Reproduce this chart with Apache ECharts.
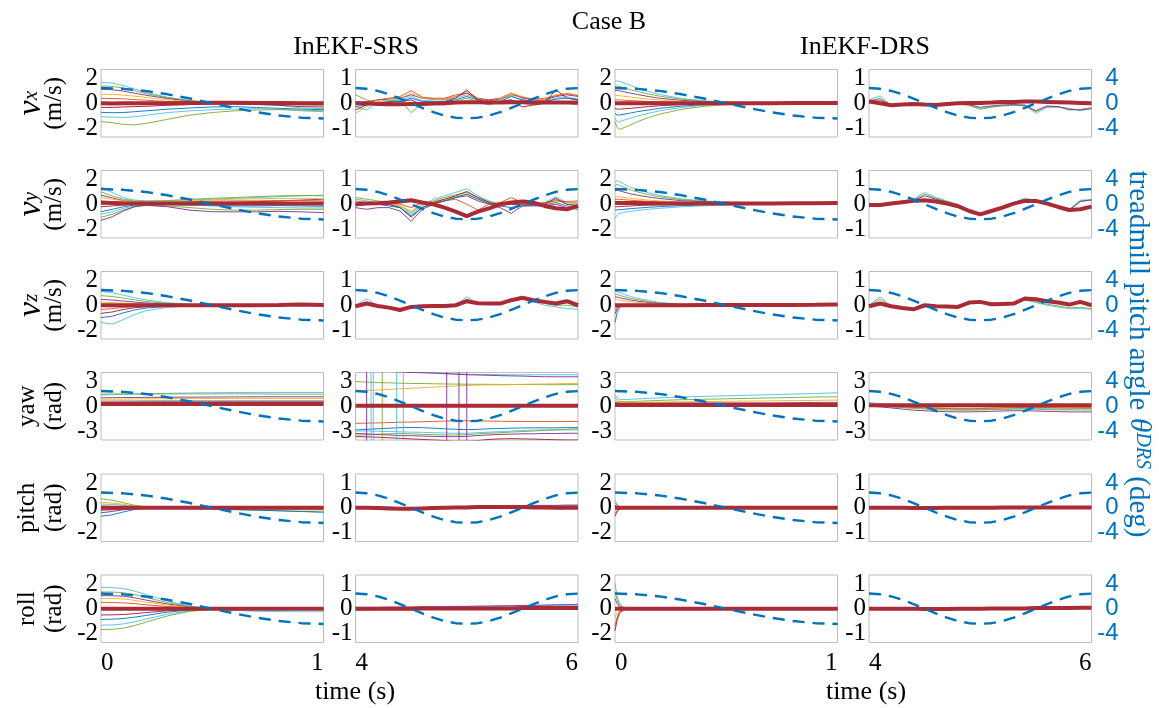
<!DOCTYPE html>
<html>
<head>
<meta charset="utf-8">
<script src="https://cdn.jsdelivr.net/npm/echarts@6/dist/echarts.min.js"></script>
<style>
html,body{margin:0;padding:0;background:#fff;}
#chart{width:1159px;height:708px;}
</style>
</head>
<body>
<div id="chart"></div>
<script>
// ---------- time grids ----------
const tSrs  = [0, 0.05, 0.1, 0.15, 0.2, 0.3, 0.4, 0.5, 0.6, 0.7, 0.8, 0.9, 1.0];
const tDrs  = [0, 0.01, 0.02, 0.04, 0.07, 0.1, 0.15, 0.2, 0.3, 0.4, 0.5, 0.6, 0.7, 0.8, 0.9, 1.0];
const tLate = [4.0, 4.1, 4.2, 4.3, 4.4, 4.5, 4.6, 4.7, 4.8, 4.9, 5.0, 5.1, 5.2, 5.3, 5.4, 5.5, 5.6, 5.7, 5.8, 5.9, 6.0];
const tTreadEarly = [0, 0.1, 0.2, 0.3, 0.4, 0.5, 0.6, 0.7, 0.8, 0.9, 1.0];

// treadmill pitch angle (deg)
const treadEarly = [1.8, 1.71, 1.46, 1.06, 0.56, 0.0, -0.56, -1.06, -1.46, -1.71, -1.8];
const treadLate  = [1.8, 1.71, 1.46, 1.06, 0.56, 0.0, -0.56, -1.06, -1.46, -1.71, -1.8, -1.71, -1.46, -1.06, -0.56, 0.0, 0.56, 1.06, 1.46, 1.71, 1.8];

// ---------- v_x ----------
const vxSrsEarly = [
  [1.24, 1.2, 1.05, 0.85, 0.65, 0.35, 0.15, 0.05, 0, -0.05, -0.12, -0.28, -0.32],
  [1.02, 1.0, 0.9, 0.75, 0.58, 0.32, 0.14, 0.06, 0.02, 0.0, -0.05, -0.1, -0.12],
  [0.83, 0.8, 0.72, 0.6, 0.48, 0.28, 0.12, 0.05, 0.05, 0.03, 0.02, 0.0, -0.02],
  [0.53, 0.52, 0.48, 0.42, 0.35, 0.2, 0.1, 0.05, 0.03, 0.05, 0.08, 0.05, 0.04],
  [0.29, 0.28, 0.26, 0.22, 0.18, 0.1, 0.05, 0.02, 0.01, 0.0, 0.02, 0.03, 0.02],
  [-0.24, -0.25, -0.22, -0.2, -0.18, -0.12, -0.08, -0.05, -0.05, -0.08, -0.12, -0.2, -0.22],
  [-0.54, -0.56, -0.55, -0.5, -0.45, -0.35, -0.28, -0.22, -0.2, -0.25, -0.3, -0.35, -0.38],
  [-0.8, -0.82, -0.84, -0.8, -0.72, -0.55, -0.45, -0.38, -0.35, -0.32, -0.35, -0.45, -0.5],
  [-1.09, -1.15, -1.25, -1.28, -1.2, -0.95, -0.7, -0.55, -0.45, -0.4, -0.38, -0.4, -0.45]
];
const vxSrsEarlyMean = [0, -0.02, 0, 0, 0, 0, 0.02, 0.03, 0.03, 0.02, 0.02, 0, 0];

const vxSrsLate = [
  [-0.1, -0.2, 0.05, 0.08, 0.1, 0.2, 0.08, 0.1, 0.1, 0.15, 0.25, 0.12, 0.05, 0.1, 0.22, 0.1, 0.05, 0.08, 0.15, 0.2, 0.1],
  [0.25, 0.1, 0.0, 0.05, 0.1, -0.28, 0.0, 0.0, -0.05, 0.05, 0.15, 0.05, -0.05, 0.05, 0.1, 0.0, -0.05, 0.0, 0.05, 0.0, -0.05],
  [0.05, 0.0, 0.1, 0.12, 0.15, 0.25, 0.15, 0.12, 0.12, 0.2, 0.3, 0.15, 0.1, 0.15, 0.3, 0.15, 0.1, 0.1, 0.2, 0.25, 0.2],
  [-0.3, -0.1, 0.05, 0.1, 0.15, 0.3, 0.15, 0.12, 0.1, 0.2, 0.35, 0.15, 0.05, 0.15, 0.3, 0.2, 0.1, 0.12, 0.25, 0.3, 0.25],
  [0.0, 0.05, 0.1, 0.15, 0.2, 0.37, 0.18, 0.15, 0.15, 0.25, 0.3, 0.12, 0.08, 0.12, 0.25, 0.18, 0.12, 0.15, 0.22, 0.28, 0.22],
  [-0.2, -0.05, 0.0, 0.02, 0.05, 0.1, -0.05, 0.0, 0.05, 0.15, 0.39, 0.1, 0.0, 0.05, 0.1, -0.11, -0.05, 0.0, 0.4, 0.15, 0.1],
  [-0.1, -0.05, 0.0, 0.05, 0.05, 0.15, 0.05, 0.05, 0.05, 0.1, 0.2, 0.1, 0.0, 0.05, 0.2, 0.1, 0.05, 0.05, 0.12, 0.15, 0.12]
];
const vxSrsLateMean = [0, 0, -0.02, -0.03, -0.03, -0.02, -0.02, -0.01, 0, 0.02, 0.03, 0.03, 0.02, 0.02, 0.03, 0.03, 0.02, 0.02, 0.02, 0.02, 0.02];

const vxDrsEarly = [
  [1.3, 1.32, 1.3, 1.2, 1.05, 0.9, 0.7, 0.52, 0.28, 0.14, 0.07, 0.04, 0.03, 0.02, 0.02, 0.02],
  [1.0, 1.02, 1.0, 0.92, 0.8, 0.7, 0.55, 0.42, 0.24, 0.12, 0.06, 0.03, 0.02, 0.02, 0.02, 0.02],
  [0.75, 0.76, 0.74, 0.68, 0.6, 0.52, 0.4, 0.3, 0.17, 0.09, 0.05, 0.03, 0.02, 0.02, 0.02, 0.01],
  [0.45, 0.46, 0.45, 0.42, 0.37, 0.32, 0.25, 0.19, 0.1, 0.05, 0.03, 0.02, 0.01, 0.01, 0.01, 0.01],
  [0.2, 0.2, 0.2, 0.18, 0.16, 0.14, 0.11, 0.08, 0.05, 0.03, 0.02, 0.01, 0.01, 0.01, 0.0, 0.0],
  [-0.3, -0.35, -0.35, -0.33, -0.3, -0.26, -0.2, -0.15, -0.08, -0.04, -0.02, -0.01, 0, 0, 0, 0],
  [-0.6, -0.7, -0.7, -0.65, -0.58, -0.5, -0.4, -0.3, -0.17, -0.08, -0.04, -0.02, -0.01, 0, 0, 0],
  [-0.9, -1.1, -1.1, -1.0, -0.88, -0.76, -0.6, -0.45, -0.25, -0.12, -0.06, -0.03, -0.02, -0.01, 0, 0],
  [-1.1, -1.45, -1.55, -1.45, -1.28, -1.1, -0.85, -0.65, -0.36, -0.18, -0.09, -0.05, -0.03, -0.02, -0.01, 0]
];
const vxDrsEarlyMean = [0, 0, 0, 0, 0, 0, 0, 0, 0, 0, 0, 0, 0, 0.01, 0.01, 0.01];

const vxDrsLate = [
  [0.1, 0.22, -0.08, -0.05, -0.02, -0.04, -0.06, -0.02, 0.0, -0.05, -0.15, -0.1, -0.08, -0.05, -0.05, -0.3, -0.12, -0.12, -0.15, -0.22, -0.15],
  [0.06, 0.15, -0.07, -0.04, -0.02, -0.05, -0.05, -0.02, -0.01, -0.07, -0.18, -0.12, -0.07, -0.06, -0.08, -0.25, -0.1, -0.1, -0.2, -0.18, -0.13],
  [0.08, 0.1, -0.06, -0.04, -0.01, -0.03, -0.05, 0.0, 0.0, -0.04, -0.12, -0.08, -0.05, -0.04, -0.06, -0.22, -0.08, -0.1, -0.18, -0.2, -0.16]
];
const vxDrsLateMean = [0.05, 0.0, -0.06, -0.04, -0.02, -0.04, -0.05, -0.02, 0.0, 0.01, 0.01, 0.02, 0.04, 0.04, 0.05, 0.05, 0.04, 0.03, 0.02, 0.01, 0.0];

// ---------- v_y ----------
const vySrsEarly = [
  [1.02, 0.7, 0.4, 0.25, 0.2, 0.2, 0.25, 0.3, 0.35, 0.4, 0.45, 0.5, 0.54],
  [0.73, 0.5, 0.3, 0.2, 0.18, 0.22, 0.3, 0.35, 0.4, 0.45, 0.5, 0.52, 0.5],
  [0.54, 0.38, 0.22, 0.15, 0.12, 0.1, 0.08, 0.1, 0.12, 0.15, 0.2, 0.25, 0.3],
  [0.4, 0.3, 0.2, 0.15, 0.12, 0.15, 0.2, 0.25, 0.3, 0.32, 0.35, 0.35, 0.35],
  [0.2, 0.15, 0.1, 0.1, 0.1, 0.12, 0.15, 0.18, 0.2, 0.2, 0.22, 0.22, 0.2],
  [-0.15, -0.1, -0.05, 0.0, 0.02, 0.05, 0.08, 0.1, 0.1, 0.12, 0.12, 0.1, 0.1],
  [-0.44, -0.3, -0.15, -0.05, 0.0, 0.0, -0.05, -0.08, -0.1, -0.1, -0.08, -0.1, -0.12],
  [-0.6, -0.45, -0.25, -0.1, -0.05, -0.02, -0.05, -0.1, -0.15, -0.18, -0.2, -0.22, -0.22],
  [-0.77, -0.6, -0.35, -0.15, -0.08, -0.1, -0.2, -0.3, -0.35, -0.35, -0.32, -0.3, -0.3],
  [-0.95, -0.75, -0.4, -0.15, -0.05, -0.15, -0.35, -0.44, -0.45, -0.45, -0.42, -0.45, -0.5]
];
const vySrsEarlyMean = [0.09, 0.08, 0.06, 0.05, 0.05, 0.05, 0.04, 0.04, 0.05, 0.05, 0.05, 0.05, 0.05];

const vySrsLate = [
  [0.15, 0.1, 0.05, 0.0, -0.1, -0.3, -0.05, 0.15, 0.25, 0.35, 0.46, 0.25, 0.1, 0.0, 0.05, 0.0, 0.0, 0.05, 0.22, 0.05, 0.05],
  [0.2, 0.15, 0.1, 0.05, -0.05, -0.25, 0.0, 0.1, 0.2, 0.28, 0.35, 0.2, 0.08, 0.0, 0.05, 0.0, 0.0, 0.02, 0.15, 0.0, 0.0],
  [-0.1, -0.15, -0.1, -0.1, -0.2, -0.51, -0.15, 0.0, 0.1, 0.2, 0.25, 0.1, 0.0, -0.1, -0.27, -0.05, -0.05, -0.05, 0.0, -0.1, -0.15],
  [0.05, 0.05, 0.0, 0.0, -0.05, -0.2, 0.0, 0.08, 0.15, 0.22, 0.3, 0.15, 0.05, 0.02, 0.05, 0.02, 0.0, 0.0, 0.1, 0.05, 0.0],
  [0.1, 0.05, 0.05, 0.05, 0.0, -0.1, 0.05, 0.05, 0.1, 0.15, 0.0, -0.17, 0.0, 0.05, 0.2, 0.05, 0.0, 0.05, 0.1, 0.08, 0.1],
  [0.0, 0.0, 0.0, 0.0, -0.1, -0.38, -0.1, 0.05, 0.15, 0.25, 0.38, 0.2, 0.05, -0.02, 0.0, -0.02, -0.02, 0.0, 0.18, 0.0, -0.05],
  [-0.05, 0.0, 0.0, -0.05, -0.1, -0.35, -0.1, 0.02, 0.1, 0.2, 0.3, 0.15, 0.02, -0.05, -0.1, -0.05, -0.02, -0.02, 0.05, -0.05, -0.1]
];
const vySrsLateMean = [0, 0.02, 0.03, 0.05, 0.08, 0.12, 0.05, 0.0, -0.1, -0.22, -0.35, -0.22, -0.12, 0.0, 0.05, 0.08, 0.05, -0.05, -0.12, -0.15, -0.05];

const vyDrsEarly = [
  [1.3, 1.41, 1.35, 1.2, 1.0, 0.87, 0.68, 0.52, 0.32, 0.2, 0.13, 0.1, 0.08, 0.07, 0.07, 0.07],
  [1.1, 1.18, 1.12, 1.0, 0.85, 0.73, 0.57, 0.44, 0.27, 0.17, 0.11, 0.09, 0.08, 0.07, 0.07, 0.07],
  [0.8, 0.83, 0.8, 0.72, 0.62, 0.54, 0.43, 0.34, 0.21, 0.14, 0.1, 0.08, 0.07, 0.07, 0.07, 0.07],
  [0.44, 0.45, 0.44, 0.4, 0.35, 0.31, 0.25, 0.2, 0.14, 0.1, 0.08, 0.07, 0.07, 0.07, 0.07, 0.07],
  [0.3, 0.3, 0.29, 0.27, 0.24, 0.21, 0.17, 0.14, 0.1, 0.08, 0.07, 0.07, 0.07, 0.07, 0.07, 0.07],
  [-0.15, -0.15, -0.14, -0.12, -0.1, -0.08, -0.05, -0.03, 0.0, 0.02, 0.03, 0.04, 0.05, 0.05, 0.06, 0.06],
  [-0.34, -0.33, -0.32, -0.3, -0.26, -0.23, -0.18, -0.14, -0.08, -0.04, -0.01, 0.01, 0.03, 0.04, 0.05, 0.05],
  [-0.82, -0.65, -0.55, -0.48, -0.42, -0.37, -0.3, -0.24, -0.15, -0.09, -0.05, -0.02, 0.0, 0.02, 0.03, 0.04]
];
const vyDrsEarlyMean = [0.09, 0.08, 0.08, 0.08, 0.07, 0.07, 0.06, 0.05, 0.04, 0.04, 0.04, 0.05, 0.05, 0.06, 0.06, 0.07];

const vyDrsLate = [
  [-0.08, 0.0, 0.05, 0.1, 0.15, 0.35, 0.2, 0.1, 0.0, -0.15, -0.28, -0.18, -0.05, 0.05, 0.18, 0.12, 0.05, -0.05, -0.15, 0.12, 0.14],
  [-0.05, -0.02, 0.04, 0.08, 0.12, 0.3, 0.18, 0.08, -0.02, -0.17, -0.3, -0.2, -0.08, 0.04, 0.15, 0.1, 0.03, -0.06, -0.16, 0.1, 0.12],
  [-0.04, -0.02, 0.03, 0.07, 0.11, 0.25, 0.15, 0.06, -0.03, -0.18, -0.31, -0.21, -0.09, 0.03, 0.12, 0.11, 0.03, -0.07, -0.17, 0.08, 0.13]
];
const vyDrsLateMean = [-0.02, -0.02, 0.02, 0.06, 0.1, 0.12, 0.08, 0.02, -0.06, -0.2, -0.3, -0.2, -0.1, 0.02, 0.1, 0.1, 0.02, -0.08, -0.17, -0.15, -0.07];

// ---------- v_z ----------
const vzSrsEarly = [
  [0.82, 0.75, 0.6, 0.45, 0.32, 0.15, 0.05, 0.0, 0.0, 0.0, 0.0, 0.05, 0.02],
  [0.57, 0.52, 0.42, 0.32, 0.23, 0.1, 0.03, 0.0, 0.0, 0.0, 0.0, 0.04, 0.02],
  [0.34, 0.31, 0.25, 0.19, 0.14, 0.06, 0.02, 0.0, 0.0, 0.0, 0.0, 0.03, 0.01],
  [0.18, 0.16, 0.13, 0.1, 0.07, 0.03, 0.01, 0.0, 0.0, 0.0, 0.0, 0.02, 0.0],
  [-0.25, -0.2, -0.13, -0.08, -0.05, -0.02, 0, 0, 0, 0, 0, 0.02, 0],
  [-0.48, -0.4, -0.25, -0.15, -0.09, -0.03, -0.01, 0, 0, 0, 0, 0.03, 0],
  [-0.73, -0.65, -0.45, -0.28, -0.17, -0.06, -0.02, 0, 0, 0, 0, 0.04, 0],
  [-1.02, -1.12, -0.85, -0.55, -0.33, -0.12, -0.04, -0.01, 0, 0, 0, 0.05, 0]
];
const vzSrsEarlyMean = [0, 0, 0, 0, 0, 0, 0, 0, 0, 0, 0.01, 0.05, 0.02];

const vzSrsLate = [
  [0.0, 0.19, -0.02, -0.08, -0.1, -0.03, -0.03, -0.03, -0.02, 0.0, 0.25, 0.05, 0.03, 0.03, 0.12, 0.18, 0.1, 0.0, -0.05, -0.1, -0.12],
  [-0.02, 0.1, -0.03, -0.07, -0.12, -0.04, -0.03, -0.02, -0.02, 0.0, 0.18, 0.06, 0.04, 0.04, 0.14, 0.2, 0.12, 0.05, 0.0, 0.0, -0.05],
  [-0.05, 0.05, -0.02, -0.06, -0.13, -0.05, -0.02, -0.02, -0.01, 0.02, 0.15, 0.05, 0.05, 0.06, 0.16, 0.24, 0.16, 0.1, 0.05, 0.08, -0.02]
];
const vzSrsLateMean = [-0.03, 0.05, -0.02, -0.07, -0.14, -0.05, -0.03, -0.02, -0.02, 0.0, 0.12, 0.06, 0.05, 0.05, 0.15, 0.22, 0.15, 0.1, 0.05, 0.12, 0.0];

const vzDrsEarly = [
  [0.82, 0.8, 0.75, 0.65, 0.52, 0.42, 0.28, 0.17, 0.06, 0.02, 0.01, 0.01, 0.01, 0.02, 0.03, 0.04],
  [0.65, 0.63, 0.59, 0.51, 0.41, 0.33, 0.22, 0.13, 0.05, 0.02, 0.01, 0.01, 0.01, 0.02, 0.03, 0.04],
  [0.5, 0.48, 0.45, 0.39, 0.31, 0.25, 0.16, 0.1, 0.04, 0.02, 0.01, 0.01, 0.01, 0.02, 0.03, 0.04],
  [0.35, 0.33, 0.31, 0.26, 0.21, 0.17, 0.11, 0.07, 0.03, 0.01, 0.01, 0.01, 0.01, 0.02, 0.03, 0.04],
  [-0.3, -0.1, -0.03, 0, 0, 0, 0, 0, 0, 0, 0.01, 0.01, 0.01, 0.02, 0.03, 0.04],
  [-0.5, -0.2, -0.06, -0.01, 0, 0, 0, 0, 0, 0, 0.01, 0.01, 0.01, 0.02, 0.03, 0.04],
  [-1.02, -0.4, -0.12, -0.02, 0, 0, 0, 0, 0, 0, 0.01, 0.01, 0.01, 0.02, 0.03, 0.04]
];
const vzDrsEarlyMean = [0, 0, 0, 0, 0, 0, 0, 0, 0, 0.01, 0.01, 0.01, 0.01, 0.02, 0.03, 0.05];

const vzDrsLate = [
  [0.0, 0.25, -0.03, -0.08, -0.12, 0.0, -0.03, -0.04, -0.05, 0.08, 0.12, 0.03, 0.04, 0.05, 0.15, 0.08, 0.0, -0.05, -0.1, -0.1, -0.12],
  [-0.02, 0.18, -0.03, -0.08, -0.12, 0.0, -0.03, -0.04, -0.05, 0.08, 0.1, 0.03, 0.04, 0.05, 0.17, 0.1, 0.03, -0.02, -0.08, -0.06, -0.1]
];
const vzDrsLateMean = [-0.03, 0.05, -0.03, -0.08, -0.12, 0.0, -0.03, -0.04, -0.05, 0.08, 0.1, 0.03, 0.04, 0.05, 0.2, 0.18, 0.12, 0.08, 0.02, 0.1, 0.0];

// ---------- yaw ----------
const yawSrsEarly = [
  [1.0, 1.02, 1.05, 1.08, 1.1, 1.15, 1.18, 1.2, 1.22, 1.23, 1.23, 1.23, 1.23],
  [1.08, 1.1, 1.1, 1.1, 1.1, 1.1, 1.1, 1.1, 1.1, 1.1, 1.08, 1.08, 1.08],
  [0.75, 0.76, 0.77, 0.78, 0.79, 0.8, 0.81, 0.82, 0.83, 0.84, 0.84, 0.84, 0.84],
  [0.62, 0.63, 0.64, 0.65, 0.66, 0.67, 0.68, 0.69, 0.7, 0.7, 0.7, 0.7, 0.7],
  [0.46, 0.46, 0.47, 0.47, 0.48, 0.48, 0.48, 0.48, 0.48, 0.48, 0.48, 0.48, 0.48],
  [0.3, 0.3, 0.3, 0.3, 0.3, 0.3, 0.3, 0.3, 0.3, 0.3, 0.3, 0.3, 0.3],
  [0.35, 0.36, 0.37, 0.38, 0.39, 0.4, 0.4, 0.4, 0.4, 0.4, 0.4, 0.4, 0.4]
];
const yawSrsEarlyMean = [0.2, 0.2, 0.2, 0.2, 0.2, 0.2, 0.2, 0.2, 0.2, 0.2, 0.2, 0.2, 0.2];

const yawSrsLate = [
  [3.3, 3.3, 3.2, 3.15, 3.1, 3.05, 3.0, 2.95, 2.9, 2.88, 2.85, 2.83, 2.82, 2.82, 2.8, 2.8, 2.8, 2.8, 2.8, 2.8, 2.8],
  [2.2, 2.15, 2.1, 2.08, 2.05, 2.03, 2.02, 2.0, 1.98, 1.97, 1.96, 1.95, 1.95, 1.94, 1.94, 1.93, 1.93, 1.92, 1.92, 1.92, 1.92],
  [3.2, 3.2, 3.15, 3.1, 3.05, 3.0, 2.98, 2.95, 2.9, 2.85, 2.8, 2.78, 2.75, 2.72, 2.7, 2.68, 2.65, 2.62, 2.62, 2.62, 2.62],
  [1.35, 1.4, 1.45, 1.5, 1.55, 1.6, 1.65, 1.7, 1.75, 1.8, 1.85, 1.88, 1.9, 1.9, 1.92, 1.95, 1.97, 1.98, 2.0, 2.02, 2.02],
  [-1.52, -1.5, -1.48, -1.45, -1.42, -1.4, -1.38, -1.35, -1.32, -1.3, -1.29, -1.3, -1.32, -1.33, -1.35, -1.35, -1.35, -1.35, -1.35, -1.35, -1.35],
  [-2.7, -2.72, -2.75, -2.8, -2.85, -2.9, -2.95, -3.0, -3.05, -3.1, -3.1, -3.05, -2.95, -2.9, -2.88, -2.9, -2.92, -2.95, -2.98, -3.0, -3.0],
  [-2.11, -2.05, -2.0, -1.95, -1.9, -1.88, -1.9, -1.95, -2.0, -2.05, -2.08, -2.05, -2.0, -1.98, -1.95, -1.93, -1.92, -1.92, -1.92, -1.9, -1.9],
  [-2.2, -2.2, -2.22, -2.25, -2.28, -2.3, -2.32, -2.35, -2.38, -2.4, -2.4, -2.35, -2.3, -2.25, -2.2, -2.15, -2.12, -2.1, -2.1, -2.1, -2.1],
  [-2.56, -2.55, -2.5, -2.45, -2.42, -2.45, -2.5, -2.52, -2.55, -2.55, -2.52, -2.45, -2.4, -2.35, -2.3, -2.25, -2.2, -2.15, -2.1, -2.05, -2.0],
  [-2.41, -2.45, -2.5, -2.55, -2.6, -2.62, -2.65, -2.68, -2.7, -2.7, -2.68, -2.6, -2.55, -2.5, -2.48, -2.45, -2.45, -2.42, -2.42, -2.4, -2.4]
];
// heading estimates that wrap across ±π: [time, yaw] pairs
const yawSrsLateWrap = [
  [[4.0, -3.3], [4.1, -3.3], [4.1, 3.3], [6.0, 3.3]],
  [[4.0, 3.3], [4.14, 3.3], [4.14, -3.3], [4.37, -3.3], [4.37, 3.3], [4.43, 3.3], [4.43, -3.3], [6.0, -3.3]],
  [[4.0, -3.3], [4.24, -3.3], [4.24, 3.3], [6.0, 3.3]],
  [[4.0, 3.3], [4.16, 3.3], [4.16, -3.3], [6.0, -3.3]],
  [[4.0, 3.3], [4.82, 3.3], [4.82, -3.3], [6.0, -3.3]],
  [[4.0, -3.3], [4.93, -3.3], [4.93, 3.3], [5.0, 3.3], [5.0, -3.3], [6.0, -3.3]]
];
const yawSrsLateWrapColors = ['#7E2F8E', '#4DBEEE', '#77AC30', '#4DBEEE', '#7E2F8E', '#7E2F8E'];
const yawSrsLateMean = [0.05, 0.05, 0.05, 0.05, 0.05, 0.05, 0.05, 0.05, 0.05, 0.05, 0.05, 0.05, 0.05, 0.05, 0.05, 0.05, 0.05, 0.05, 0.05, 0.05, 0.05];

const yawDrsEarly = [
  [1.0, 0.8, 0.62, 0.6, 0.62, 0.65, 0.7, 0.75, 0.82, 0.88, 0.93, 0.98, 1.03, 1.08, 1.13, 1.2],
  [0.8, 0.55, 0.42, 0.4, 0.42, 0.44, 0.48, 0.52, 0.58, 0.62, 0.66, 0.7, 0.74, 0.78, 0.82, 0.84],
  [0.35, 0.32, 0.3, 0.3, 0.3, 0.3, 0.3, 0.3, 0.3, 0.3, 0.3, 0.3, 0.3, 0.32, 0.34, 0.35],
  [0.5, 0.4, 0.35, 0.34, 0.34, 0.35, 0.36, 0.37, 0.4, 0.42, 0.44, 0.46, 0.48, 0.5, 0.52, 0.55],
  [0.3, 0.28, 0.27, 0.27, 0.27, 0.26, 0.26, 0.26, 0.25, 0.25, 0.25, 0.25, 0.25, 0.25, 0.25, 0.25]
];
const yawDrsEarlyMean = [0.12, 0.12, 0.12, 0.12, 0.12, 0.12, 0.12, 0.12, 0.12, 0.12, 0.12, 0.12, 0.12, 0.12, 0.12, 0.12];

const yawDrsLate = [
  [0.34, 0.2, 0.1, 0.0, -0.1, -0.15, -0.2, -0.25, -0.3, -0.3, -0.3, -0.28, -0.25, -0.22, -0.2, -0.2, -0.22, -0.25, -0.25, -0.22, -0.2],
  [0.1, 0.05, -0.05, -0.12, -0.2, -0.25, -0.3, -0.33, -0.35, -0.35, -0.33, -0.3, -0.28, -0.26, -0.25, -0.27, -0.3, -0.32, -0.33, -0.33, -0.32],
  [0.0, -0.05, -0.15, -0.25, -0.35, -0.4, -0.45, -0.48, -0.5, -0.5, -0.48, -0.45, -0.42, -0.4, -0.4, -0.42, -0.45, -0.48, -0.5, -0.5, -0.5],
  [0.2, 0.12, 0.05, 0.0, -0.05, -0.1, -0.12, -0.15, -0.18, -0.18, -0.16, -0.14, -0.12, -0.1, -0.08, -0.08, -0.1, -0.12, -0.13, -0.12, -0.12],
  [0.15, 0.1, 0.0, -0.05, -0.1, -0.15, -0.18, -0.2, -0.22, -0.22, -0.2, -0.18, -0.15, -0.12, -0.1, -0.1, -0.12, -0.15, -0.16, -0.15, -0.15]
];
const yawDrsLateMean = [0.1, 0.1, 0.1, 0.1, 0.1, 0.1, 0.1, 0.1, 0.1, 0.1, 0.1, 0.1, 0.1, 0.1, 0.1, 0.1, 0.1, 0.1, 0.1, 0.1, 0.1];

// ---------- pitch ----------
const pitchSrsEarly = [
  [0.22, 0.2, 0.14, 0.08, 0.03, 0.0, -0.01, -0.02, -0.03, -0.04, -0.05, -0.06, -0.07],
  [0.52, 0.45, 0.3, 0.15, 0.05, -0.02, -0.05, -0.08, -0.12, -0.15, -0.18, -0.22, -0.26],
  [-0.3, -0.22, -0.12, -0.05, 0.0, 0.02, 0.02, 0.02, 0.02, 0.02, 0.02, 0.02, 0.02],
  [0.32, 0.28, 0.2, 0.1, 0.04, 0.0, -0.02, -0.04, -0.06, -0.08, -0.1, -0.12, -0.14],
  [0.1, 0.08, 0.05, 0.02, 0.0, 0.0, 0.0, 0.0, 0.0, 0.0, 0.0, 0.0, 0.0],
  [-0.15, -0.12, -0.07, -0.03, 0.0, 0.0, 0.0, -0.01, -0.02, -0.03, -0.04, -0.05, -0.06],
  [-0.5, -0.42, -0.25, -0.1, -0.02, 0.0, -0.03, -0.06, -0.1, -0.14, -0.18, -0.22, -0.26]
];
const pitchSrsEarlyMean = [0, 0, 0, 0, 0, 0, 0, 0, 0, 0, 0, 0, 0];

const pitchSrsLate = [
  [0.02, 0.02, 0.02, 0.02, 0.0, 0.0, -0.01, 0.0, 0.0, 0.02, 0.03, 0.03, 0.03, 0.04, 0.04, 0.05, 0.05, 0.05, 0.05, 0.05, 0.05],
  [-0.02, -0.02, -0.03, -0.03, -0.04, -0.04, -0.03, -0.02, -0.01, 0.0, 0.01, 0.01, 0.02, 0.02, 0.02, 0.03, 0.03, 0.04, 0.04, 0.05, 0.06],
  [0.04, 0.03, 0.02, 0.01, 0.0, -0.01, 0.0, 0.01, 0.02, 0.03, 0.04, 0.05, 0.05, 0.06, 0.06, 0.06, 0.07, 0.07, 0.07, 0.08, 0.08]
];
const pitchSrsLateMean = [0, 0, -0.01, -0.02, -0.03, -0.03, -0.02, -0.01, 0, 0.01, 0.01, 0.02, 0.02, 0.02, 0.02, 0.02, 0.01, 0.01, 0.0, 0.0, 0.0];

const pitchDrsEarly = [
  [0.45, 0.2, 0.08, 0.02, 0.01, 0, 0, 0, 0, 0, 0, 0, 0, 0, 0, 0],
  [0.3, 0.14, 0.05, 0.01, 0, 0, 0, 0, 0, 0, 0, 0, 0, 0, 0, 0],
  [0.15, 0.07, 0.03, 0.01, 0, 0, 0, 0, 0, 0, 0, 0, 0, 0, 0, 0],
  [-0.2, -0.09, -0.04, -0.01, 0, 0, 0, 0, 0, 0, 0, 0, 0, 0, 0, 0],
  [-0.35, -0.16, -0.06, -0.02, 0, 0, 0, 0, 0, 0, 0, 0, 0, 0, 0, 0],
  [-0.5, -0.23, -0.09, -0.02, -0.01, 0, 0, 0, 0, 0, 0, 0, 0, 0, 0, 0]
];
const pitchDrsEarlyMean = [0, 0, 0, 0, 0, 0, 0, 0, 0, 0, 0, 0, 0, 0, 0, 0];

const pitchDrsLate = [
  [0.01, 0.01, 0.0, 0.0, -0.01, -0.01, -0.01, 0.0, 0.0, 0.01, 0.01, 0.01, 0.01, 0.02, 0.02, 0.02, 0.02, 0.02, 0.03, 0.02, 0.02],
  [-0.01, -0.01, -0.01, -0.01, -0.02, -0.02, -0.01, -0.01, 0.0, 0.0, 0.0, 0.0, 0.01, 0.01, 0.01, 0.01, 0.01, 0.01, 0.01, 0.01, 0.01]
];
const pitchDrsLateMean = [0, 0, 0, 0, -0.01, -0.01, -0.01, 0, 0, 0, 0, 0, 0.01, 0.01, 0.01, 0.01, 0.01, 0.01, 0.01, 0.01, 0.01];

// ---------- roll ----------
const rollSrsEarly = [
  [1.27, 1.25, 1.2, 1.05, 0.85, 0.45, 0.15, 0.0, -0.1, -0.15, -0.17, -0.18, -0.18],
  [1.0, 0.99, 0.95, 0.84, 0.68, 0.36, 0.12, 0.02, 0.0, 0.0, 0.0, 0.0, 0.0],
  [0.78, 0.77, 0.74, 0.65, 0.52, 0.28, 0.1, 0.02, 0.0, 0.0, 0.0, 0.0, 0.0],
  [0.62, 0.61, 0.58, 0.5, 0.4, 0.22, 0.08, 0.02, 0.0, 0.0, 0.0, 0.0, 0.0],
  [0.38, 0.37, 0.35, 0.3, 0.24, 0.13, 0.05, 0.01, 0.0, 0.0, 0.0, 0.0, 0.0],
  [-0.37, -0.36, -0.34, -0.29, -0.23, -0.12, -0.04, -0.01, 0.0, 0.0, 0.0, 0.0, 0.0],
  [-0.63, -0.62, -0.58, -0.5, -0.4, -0.2, -0.07, -0.02, 0.0, 0.0, -0.02, -0.02, -0.02],
  [-0.97, -0.96, -0.9, -0.78, -0.62, -0.32, -0.12, -0.03, 0.0, 0.0, 0.0, 0.0, 0.0],
  [-1.23, -1.22, -1.15, -1.0, -0.8, -0.42, -0.15, -0.04, 0.0, 0.0, 0.0, 0.0, 0.0]
];
const rollSrsEarlyMean = [0, 0, 0, 0, 0, 0, 0, 0, 0, 0, 0, 0, 0];

const rollSrsLate = [
  [0.02, 0.02, 0.03, 0.03, 0.04, 0.04, 0.05, 0.05, 0.06, 0.06, 0.06, 0.06, 0.07, 0.07, 0.08, 0.08, 0.08, 0.09, 0.1, 0.1, 0.1],
  [-0.04, -0.04, -0.03, -0.03, -0.03, -0.03, -0.02, -0.02, -0.02, -0.02, -0.02, -0.02, -0.02, -0.01, -0.01, -0.01, 0, 0, 0, 0, 0],
  [0.04, 0.04, 0.04, 0.05, 0.05, 0.05, 0.06, 0.06, 0.06, 0.07, 0.07, 0.08, 0.08, 0.09, 0.09, 0.1, 0.1, 0.11, 0.12, 0.12, 0.13],
  [-0.02, -0.02, -0.01, -0.01, 0.0, 0.0, 0.01, 0.01, 0.02, 0.02, 0.03, 0.03, 0.03, 0.04, 0.04, 0.05, 0.05, 0.05, 0.06, 0.06, 0.06]
];
const rollSrsLateMean = [0, 0, 0, 0, 0, 0, 0.01, 0.01, 0.01, 0.01, 0.01, 0.01, 0.01, 0.01, 0.01, 0.02, 0.02, 0.02, 0.02, 0.02, 0.02];

const rollDrsEarly = [
  [1.5, 0.7, 0.3, 0.08, 0.02, 0, 0, 0, 0, 0, 0, 0, 0, 0, 0, 0],
  [1.0, 0.5, 0.2, 0.05, 0.01, 0, 0, 0, 0, 0, 0, 0, 0, 0, 0, 0],
  [0.6, 0.3, 0.12, 0.03, 0, 0, 0, 0, 0, 0, 0, 0, 0, 0, 0, 0],
  [-0.5, -0.25, -0.1, -0.02, 0, 0, 0, 0, 0, 0, 0, 0, 0, 0, 0, 0],
  [-1.0, -0.5, -0.2, -0.05, 0, 0, 0, 0, 0, 0, 0, 0, 0, 0, 0, 0],
  [-1.3, -0.65, -0.26, -0.06, 0, 0, 0, 0, 0, 0, 0, 0, 0, 0, 0, 0]
];
const rollDrsEarlyMean = [0, 0, 0, 0, 0, 0, 0, 0, 0, 0, 0, 0, 0, 0, 0, 0];

const rollDrsLate = [
  [0.0, 0.0, 0.0, 0.01, 0.01, 0.0, -0.01, -0.01, 0.0, 0.0, 0.01, 0.01, 0.01, 0.02, 0.02, 0.02, 0.02, 0.03, 0.03, 0.03, 0.04]
];
const rollDrsLateMean = [0, 0, 0, 0, 0, -0.01, -0.01, -0.01, 0, 0, 0, 0.01, 0.01, 0.01, 0.01, 0.02, 0.02, 0.02, 0.02, 0.03, 0.03];

// ---------- labels ----------
const figTitle = 'Case B';
const columnTitles = ['InEKF-SRS', 'InEKF-DRS'];
const xTitle = 'time (s)';
const rowNames = [['v', 'x'], ['v', 'y'], ['v', 'z'], ['yaw'], ['pitch'], ['roll']];
const rowUnits = ['(m/s)', '(m/s)', '(m/s)', '(rad)', '(rad)', '(rad)'];
const yLimits = [[2, 1, 2, 1], [2, 1, 2, 1], [2, 1, 2, 1], [3, 3, 3, 3], [2, 1, 2, 1], [2, 1, 2, 1]];

const panels = [
  [[tSrs, vxSrsEarly, vxSrsEarlyMean], [tLate, vxSrsLate, vxSrsLateMean], [tDrs, vxDrsEarly, vxDrsEarlyMean], [tLate, vxDrsLate, vxDrsLateMean]],
  [[tSrs, vySrsEarly, vySrsEarlyMean], [tLate, vySrsLate, vySrsLateMean], [tDrs, vyDrsEarly, vyDrsEarlyMean], [tLate, vyDrsLate, vyDrsLateMean]],
  [[tSrs, vzSrsEarly, vzSrsEarlyMean], [tLate, vzSrsLate, vzSrsLateMean], [tDrs, vzDrsEarly, vzDrsEarlyMean], [tLate, vzDrsLate, vzDrsLateMean]],
  [[tSrs, yawSrsEarly, yawSrsEarlyMean], [tLate, yawSrsLate, yawSrsLateMean, yawSrsLateWrap], [tDrs, yawDrsEarly, yawDrsEarlyMean], [tLate, yawDrsLate, yawDrsLateMean]],
  [[tSrs, pitchSrsEarly, pitchSrsEarlyMean], [tLate, pitchSrsLate, pitchSrsLateMean], [tDrs, pitchDrsEarly, pitchDrsEarlyMean], [tLate, pitchDrsLate, pitchDrsLateMean]],
  [[tSrs, rollSrsEarly, rollSrsEarlyMean], [tLate, rollSrsLate, rollSrsLateMean], [tDrs, rollDrsEarly, rollDrsEarlyMean], [tLate, rollDrsLate, rollDrsLateMean]]
];

// ---------- styling / layout ----------
const SERIF = "'Liberation Serif', 'Times New Roman', serif";
const SANS = "'Liberation Sans', Arial, sans-serif";
const lineColors = ['#4DBEEE', '#77AC30', '#7E2F8E', '#EDB120', '#D95319', '#A2142F', '#0072BD'];
const meanColor = '#AA2A36';
const treadColor = '#0072BD';
const colLeft = [101, 355.5, 615, 869];
const rowTop = [69.5, 170.5, 271.5, 372.5, 474, 575];
const plotW = 222.5, plotH = 67.5;

const pairs = (t, v) => v.map((y, i) => [t[i], y]);
const hidden = { show: false };

const grids = [], xAxes = [], yAxes = [], series = [];
const baseLine = { type: 'line', symbol: 'none', silent: true, animation: false, clip: true, emphasis: { disabled: true } };

for (let r = 0; r < 6; r++) {
  for (let c = 0; c < 4; c++) {
    const gi = r * 4 + c;
    const late = c % 2 === 1;
    const R = yLimits[r][c];
    grids.push({ left: colLeft[c], top: rowTop[r], width: plotW, height: plotH, show: true, borderColor: '#bdbdbd', borderWidth: 1, backgroundColor: '#fff' });
    xAxes.push({
      type: 'value', gridIndex: gi, min: late ? 4 : 0, max: late ? 6 : 1, interval: late ? 2 : 1,
      axisLine: { show: false, onZero: false }, axisTick: hidden, splitLine: hidden,
      axisLabel: { show: r === 5, color: '#000', fontSize: 25, fontFamily: SERIF, margin: 8, lineHeight: 25,
        showMinLabel: true, showMaxLabel: true, alignMinLabel: 'left', alignMaxLabel: 'right' }
    });
    const yBase = { type: 'value', gridIndex: gi, min: -R, max: R, interval: R,
      axisLine: { show: false, onZero: false }, axisTick: hidden, splitLine: hidden };
    // left axis carrying the data, labelled at its two ends
    yAxes.push(Object.assign({}, yBase, { position: 'left',
      axisLabel: { color: '#000', fontSize: 25, fontFamily: SERIF, margin: 3, lineHeight: 18,
        showMinLabel: true, showMaxLabel: true,
        verticalAlignMinLabel: 'bottom', verticalAlignMaxLabel: 'top',
        formatter: v => (v === 0 ? '' : String(v)) }
    }));
    // companion left axis that labels the zero line
    yAxes.push(Object.assign({}, yBase, { position: 'left',
      axisLabel: { color: '#000', fontSize: 25, fontFamily: SERIF, margin: 3, lineHeight: 18,
        showMinLabel: false, showMaxLabel: false,
        formatter: v => (v === 0 ? '0' : '') }
    }));
    // right axis: treadmill pitch angle
    yAxes.push({
      type: 'value', gridIndex: gi, position: 'right', min: -4, max: 4, interval: 4,
      axisLine: { show: false, onZero: false }, axisTick: hidden, splitLine: hidden,
      axisLabel: { show: c === 3, color: treadColor, fontSize: 24, fontFamily: SANS, margin: 27, align: 'right', lineHeight: 18,
        showMinLabel: true, showMaxLabel: true,
        verticalAlignMinLabel: 'bottom', verticalAlignMaxLabel: 'top' }
    });
    const yData = gi * 3, yTread = gi * 3 + 2;
    const [t, lines, mean, wrap] = panels[r][c];
    lines.forEach((vals, k) => series.push(Object.assign({}, baseLine, {
      xAxisIndex: gi, yAxisIndex: yData, data: pairs(t, vals), z: 2,
      lineStyle: { width: 1, color: lineColors[k % lineColors.length], opacity: 0.9 }
    })));
    if (wrap) wrap.forEach((pts, k) => series.push(Object.assign({}, baseLine, {
      xAxisIndex: gi, yAxisIndex: yData, data: pts, z: 2,
      lineStyle: { width: 1, color: yawSrsLateWrapColors[k], opacity: 0.9 }
    })));
    series.push(Object.assign({}, baseLine, {
      xAxisIndex: gi, yAxisIndex: yData, data: pairs(t, mean), z: 3,
      lineStyle: { width: 4, color: meanColor }
    }));
    series.push(Object.assign({}, baseLine, {
      xAxisIndex: gi, yAxisIndex: yTread, z: 4,
      data: late ? pairs(tLate, treadLate) : pairs(tTreadEarly, treadEarly),
      lineStyle: { width: 2.4, color: treadColor, type: [12, 8] }
    }));
  }
}

// ---------- text decorations ----------
const txt = (x, y, text, size, extra) => ({
  type: 'text', x, y, silent: true, z: 10,
  style: Object.assign({ text, fontSize: size, fontFamily: SERIF, fill: '#000', align: 'center', verticalAlign: 'middle' }, extra || {})
});
const graphics = [
  txt(609, 22, figTitle, 26),
  txt(356, 47, columnTitles[0], 26),
  txt(865, 47, columnTitles[1], 26),
  txt(355, 692, xTitle, 26),
  txt(866, 692, xTitle, 26)
];
rowNames.forEach((nm, r) => {
  const yc = rowTop[r] + plotH / 2;
  if (nm.length === 2) {
    graphics.push(Object.assign(txt(28, yc, '', 30), {
      rotation: Math.PI / 2,
      style: {
        text: '{v|' + nm[0] + '}{s|' + nm[1] + '}', align: 'center', verticalAlign: 'middle', fill: '#000',
        rich: {
          v: { fontSize: 34, fontStyle: 'italic', fontFamily: SERIF, verticalAlign: 'top', lineHeight: 28 },
          s: { fontSize: 21, fontStyle: 'italic', fontFamily: SERIF, verticalAlign: 'bottom', lineHeight: 20, padding: [20, 0, 0, 0] }
        }
      }
    }));
  } else {
    graphics.push(Object.assign(txt(27, yc, nm[0], 25), { rotation: Math.PI / 2 }));
  }
  graphics.push(Object.assign(txt(54, yc, rowUnits[r], 25), { rotation: Math.PI / 2 }));
});
graphics.push({
  type: 'text', x: 1138, y: 354, rotation: -Math.PI / 2, silent: true, z: 10,
  style: {
    text: '{a|treadmill pitch angle }{b|θ}{c|DRS}{a| (deg)}', align: 'center', verticalAlign: 'middle', fill: treadColor,
    rich: {
      a: { fontSize: 29, fontFamily: SERIF, fill: treadColor, verticalAlign: 'bottom', lineHeight: 29 },
      b: { fontSize: 30, fontFamily: SERIF, fontStyle: 'italic', fill: treadColor, verticalAlign: 'bottom', lineHeight: 29 },
      c: { fontSize: 20, fontFamily: SERIF, fontStyle: 'italic', fill: treadColor, verticalAlign: 'top', lineHeight: 20, padding: [0, 0, 16, 0] }
    }
  }
});

const chart = echarts.init(document.getElementById('chart'), null, { renderer: 'canvas' });
chart.setOption({
  animation: false,
  backgroundColor: '#fff',
  textStyle: { fontFamily: SERIF },
  grid: grids,
  xAxis: xAxes,
  yAxis: yAxes,
  series: series,
  graphic: graphics
});
</script>
</body>
</html>
